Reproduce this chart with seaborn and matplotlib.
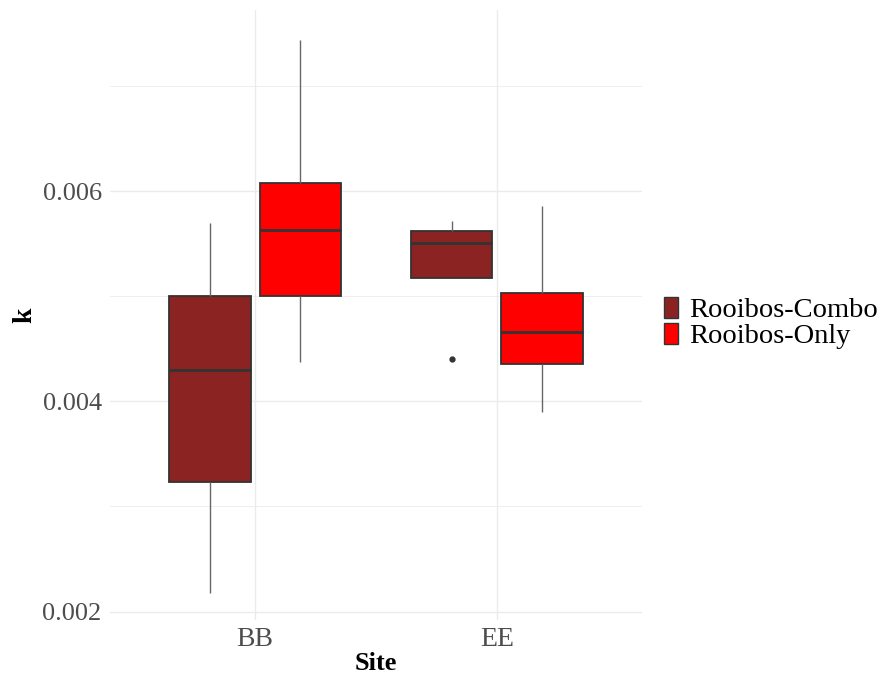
import numpy as np
import pandas as pd
import matplotlib
matplotlib.use("Agg")
import matplotlib.pyplot as plt
from matplotlib.patches import Patch
from matplotlib.ticker import FixedLocator
import seaborn as sns

# ── Data (five read-off values per box: low, q1, median, q3, high) ──
sites = ["BB", "EE"]
treatments = ["Rooibos-Combo", "Rooibos-Only"]
bb_combo = [0.00218, 0.00323, 0.00430, 0.00500, 0.00570]
bb_only = [0.00437, 0.00500, 0.00563, 0.00608, 0.00744]
ee_combo = [0.00440, 0.00517, 0.00551, 0.00562, 0.00571]
ee_only = [0.00390, 0.00435, 0.00466, 0.00503, 0.00586]

colors = {"Rooibos-Combo": "#8B2323", "Rooibos-Only": "#FF0000"}

rows = []
for site, trt, vals in [("BB", "Rooibos-Combo", bb_combo), ("BB", "Rooibos-Only", bb_only),
                        ("EE", "Rooibos-Combo", ee_combo), ("EE", "Rooibos-Only", ee_only)]:
    for v in vals:
        rows.append({"Site": site, "Treatment": trt, "k": v})
df = pd.DataFrame(rows)

# ── Style ──
sns.set_theme(style="white")
plt.rcParams["font.family"] = ["Liberation Serif", "DejaVu Serif"]

fig = plt.figure(figsize=(8.83, 6.77), dpi=100)
ax = fig.add_axes([0.1246, 0.0842, 0.727 - 0.1246, 0.985 - 0.0842])

sns.boxplot(
    data=df, x="Site", y="k", hue="Treatment",
    order=sites, hue_order=treatments, palette=colors, saturation=1,
    width=0.75, gap=0.1, linecolor="#333333", linewidth=1.3,
    whis=1.5, fliersize=3.5, ax=ax, legend=False,
    whiskerprops=dict(color="#666666", linewidth=1.0),
    capprops=dict(linewidth=0),
    medianprops=dict(color="#333333", linewidth=2.0),
    flierprops=dict(marker="o", markerfacecolor="#333333",
                    markeredgecolor="#333333", markersize=3.5),
    boxprops=dict(edgecolor="#333333"),
)

ax.set_xlim(-0.6, 1.6)
ax.set_ylim(0.00192, 0.00772)
ax.yaxis.set_major_locator(FixedLocator([0.002, 0.004, 0.006]))
ax.yaxis.set_minor_locator(FixedLocator([0.003, 0.005, 0.007]))
ax.set_yticklabels(["0.002", "0.004", "0.006"])

ax.set_axisbelow(True)
ax.grid(True, which="major", color="#EBEBEB", linewidth=1.0)
ax.grid(True, which="minor", axis="y", color="#EBEBEB", linewidth=0.6)
for s in ax.spines.values():
    s.set_visible(False)

ax.tick_params(axis="both", which="both", length=0)
ax.tick_params(axis="y", labelsize=19, labelcolor="#4D4D4D", pad=6)
ax.tick_params(axis="x", labelsize=20, labelcolor="#4D4D4D", pad=5)

ax.set_xlabel("Site", fontsize=19, fontweight="bold", color="black", labelpad=0)
ax.set_ylabel("k", fontsize=20, fontweight="bold", color="black", labelpad=4)

handles = [Patch(facecolor=colors[t], edgecolor="#333333", linewidth=1.0, label=t)
           for t in treatments]
leg = ax.legend(handles=handles, loc="center left", bbox_to_anchor=(1.02, 0.487),
                frameon=False, fontsize=20.5, handlelength=0.5, handleheight=0.75,
                handletextpad=0.4, labelspacing=0.0, borderaxespad=0)
for t in leg.get_texts():
    t.set_color("black")

fig.savefig("out.png", dpi=100)
